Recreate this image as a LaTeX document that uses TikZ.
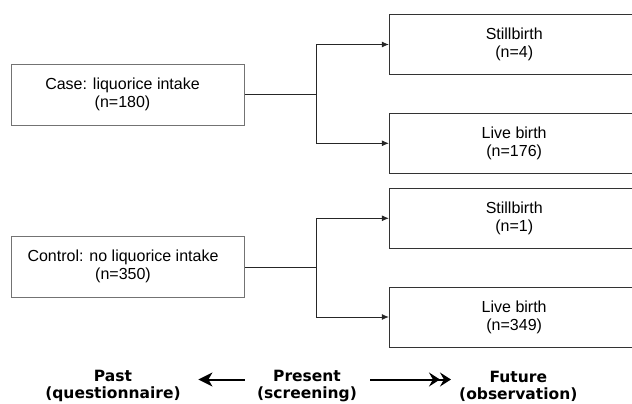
\documentclass[tikz,border=0pt]{standalone}
\usepackage{fontspec}
\setmainfont{Liberation Sans}
\newfontfamily\timefont{DejaVu Sans}
\usetikzlibrary{arrows.meta}

\tikzset{
  groupbox/.style={draw=black!55, line width=0.8pt, minimum width=233pt, minimum height=61pt, inner sep=0pt},
  outcomebox/.style={draw=black!80, line width=0.8pt, minimum width=250pt, minimum height=60pt, inner sep=0pt,
    align=center, font=\fontsize{16}{18}\selectfont},
  boxtext/.style={align=center, inner sep=0pt, font=\fontsize{16}{18}\selectfont},
  branch/.style={draw=black!85, line width=0.8pt},
  timelabel/.style={align=center, inner sep=0pt, font=\timefont\fontsize{15.5}{17}\selectfont\bfseries},
  timearrow/.style={line width=2pt}
}

\begin{document}
\begin{tikzpicture}[x=1pt,y=-1pt]
	\clip (0,0) rectangle (632,404);
	% exposure groups
	\node[groupbox] (case) at (128.3,94.8) {};
	\node[boxtext] (caseText) at (122.5,94) {Case: liquorice intake\\(n=180)};
	\node[groupbox] (control) at (128.3,267) {};
	\node[boxtext] (controlText) at (123,266) {Control: no liquorice intake\\(n=350)};
	% outcomes
	\node[outcomebox] (still1) at (514.2,44.5) {Stillbirth\\(n=4)};
	\node[outcomebox] (live1) at (514.2,143.3) {Live birth\\(n=176)};
	\node[outcomebox] (still2) at (514.2,218.3) {Stillbirth\\(n=1)};
	\node[outcomebox] (live2) at (514.2,317) {Live birth\\(n=349)};
	% branching
	\coordinate (caseSplit) at (316.7,94.8);
	\coordinate (controlSplit) at (316.7,267);
	\draw[branch] (case.east) -- (caseSplit);
	\draw[branch,-{Latex[length=7pt,width=6pt]}] (caseSplit) |- (still1.west);
	\draw[branch,-{Latex[length=7pt,width=6pt]}] (caseSplit) |- (live1.west);
	\draw[branch] (control.east) -- (controlSplit);
	\draw[branch,-{Latex[length=7pt,width=6pt]}] (controlSplit) |- (still2.west);
	\draw[branch,-{Latex[length=7pt,width=6pt]}] (controlSplit) |- (live2.west);
	% time axis
	\node[timelabel] (past) at (113,386) {Past\\(questionnaire)};
	\node[timelabel] (present) at (307,386) {Present\\(screening)};
	\node[timelabel] (future) at (518.3,386) {Future\\(observation)};
	\draw[timearrow,-{Stealth[length=14pt,width=14pt,inset=4pt]},shorten <=12pt,shorten >=17.5pt]
		([yshift=6.5pt]present.west) -- ([yshift=6.5pt]past.east);
	\draw[timearrow,-{Stealth[length=11pt,width=14pt,inset=4pt]Stealth[length=11pt,width=14pt,inset=4pt]},shorten <=13pt,shorten >=8pt]
		([yshift=6.5pt]present.east) -- ([yshift=6.5pt]future.west);
\end{tikzpicture}
\end{document}
